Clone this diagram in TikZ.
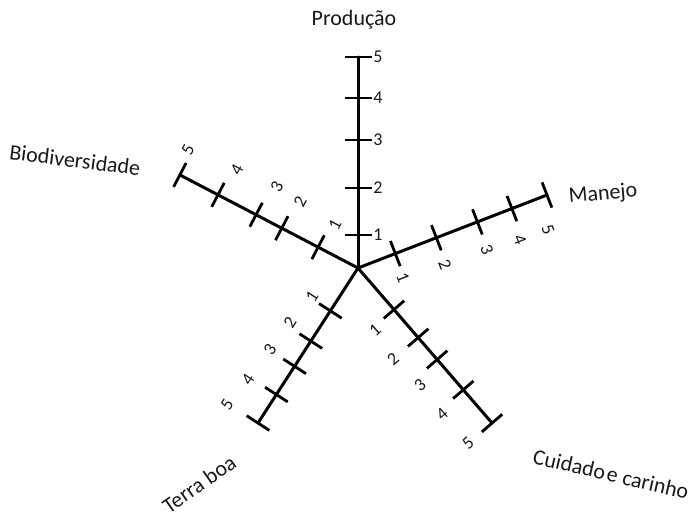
\documentclass[tikz,border=0pt]{standalone}
\usepackage{fontspec}
\setmainfont{Carlito}
\usetikzlibrary{calc}
\begin{document}
\begin{tikzpicture}[x=1pt,y=-1pt,
  axisline/.style={line width=3pt, line cap=round},
  tickline/.style={line width=2.8pt},
  numlabel/.style={font=\fontsize{18}{18}\selectfont, inner sep=0pt, text=black!90},
  axislabel/.style={font=\fontsize{22}{22}\selectfont, inner sep=0pt, text=black!90}]
\useasboundingbox (0,0) rectangle (694,520);

\coordinate (c) at (358,268);
\coordinate (eP) at (358,57);
\coordinate (eB) at (180,175);
\coordinate (eM) at (547,195);
\coordinate (eC) at (492,423);
\coordinate (eT) at (258,423);

\foreach \e in {eP,eB,eM,eC,eT}
  \draw[axisline] (c) -- (\e);

\foreach \e/\dl in {eP/{33,80,128,170,211},
                    eB/{45,86,115,158,201},
                    eM/{40,84,128,165,202.6},
                    eC/{55,92,121,161,205},
                    eT/{51,87,117,150.6,184.5}}{
  \foreach \d in \dl {
    \coordinate (t) at ($(c)!\d pt!(\e)$);
    \draw[tickline] ($(t)!13.5pt!90:(c)$) -- ($(t)!13.5pt!-90:(c)$);
  }
}

% Producao numbers
\foreach \n/\y in {1/235,2/188,3/140,4/98,5/57}
  \node[numlabel] (p\n) at (378,\y) {\n};
% Biodiversidade numbers
\foreach \n/\x/\y in {1/335/225,2/300/202,3/277/187,4/237/170,5/188/150}
  \node[numlabel, rotate=62] (b\n) at (\x,\y) {\n};
% Manejo numbers
\foreach \n/\x/\y in {1/403/278,2/445/265,3/487/250,4/520/240,5/548/230}
  \node[numlabel, rotate=-69] (m\n) at (\x,\y) {\n};
% Cuidado numbers
\foreach \n/\x/\y in {1/375/330,2/393/359,3/420/385,4/442/414,5/468/443}
  \node[numlabel, rotate=41] (k\n) at (\x,\y) {\n};
% Terra boa numbers
\foreach \n/\x/\y in {1/312/297,2/290/322,3/270/350,4/248/380,5/227/405}
  \node[numlabel, rotate=57] (r\n) at (\x,\y) {\n};

\node[axislabel] (lP) at (354,20) {Produção};
\node[axislabel, rotate=-7] (lB) at (75,160) {Biodiversidade};
\node[axislabel, rotate=5] (lM) at (603,194) {Manejo};
\node[axislabel, rotate=-13] (lC) at (611,474) {Cuidado\hspace{0.1em}e carinho};
\node[axislabel, rotate=35] (lT) at (199,484) {Terra boa};
\end{tikzpicture}
\end{document}
